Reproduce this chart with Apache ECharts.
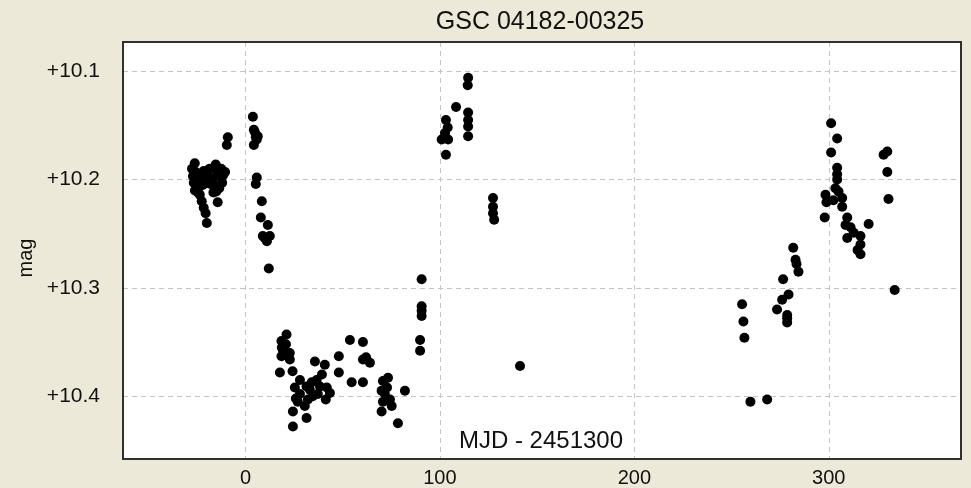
<!DOCTYPE html>
<html>
<head>
<meta charset="utf-8">
<script src="https://cdn.jsdelivr.net/npm/echarts@6/dist/echarts.min.js"></script>
<style>
html,body{margin:0;padding:0;background:#ECE9D8;}
#chart{width:971px;height:488px;}
</style>
</head>
<body>
<div id="chart"></div>
<script>
// Photometry of GSC 04182-00325: [MJD - 2451300, magnitude]
const titleText = "GSC 04182-00325";
const xAxisTitle = "MJD - 2451300";
const yAxisTitle = "mag";
const xTicks = [0, 100, 200, 300];
const yTicks = [10.1, 10.2, 10.3, 10.4];

const seasonA = [
  [-26.1,10.185],[-27.5,10.190],[-27.0,10.197],[-26.6,10.203],[-25.6,10.193],[-25.1,10.200],
  [-24.0,10.207],[-23.0,10.199],[-22.0,10.205],[-21.0,10.199],[-20.0,10.203],[-19.0,10.197],
  [-18.0,10.204],[-17.0,10.199],[-16.0,10.205],[-15.3,10.186],[-14.6,10.192],[-13.5,10.197],
  [-12.5,10.190],[-11.5,10.196],[-10.5,10.193],[-12.0,10.203],[-13.5,10.208],[-15.0,10.211],
  [-16.5,10.212],[-24.5,10.212],[-26.0,10.210],[-23.5,10.214],[-22.5,10.220],[-21.5,10.226],
  [-20.5,10.231],[-19.9,10.240],[-14.3,10.221],[-18.5,10.190],[-21.5,10.192],
  [-9.1,10.161],[-9.6,10.168],
  [3.8,10.142],[4.3,10.154],[5.3,10.161],[4.3,10.168],[5.8,10.163],[4.8,10.156],[6.3,10.160],
  [5.8,10.198],[5.3,10.204],[8.4,10.220],[7.9,10.235],[11.5,10.242],[9.9,10.254],
  [11.0,10.257],[12.5,10.252],[8.9,10.252],[12.0,10.282]
];

const seasonB = [
  [21.1,10.343],[18.5,10.349],[19.2,10.357],[18.5,10.363],[22.8,10.360],[20.8,10.352],
  [17.7,10.378],[24.2,10.377],[35.7,10.368],[40.8,10.371],[48.0,10.363],[48.0,10.378],
  [53.7,10.348],[60.4,10.350],[60.4,10.366],[64.0,10.369],[62.0,10.364],[54.6,10.387],
  [60.4,10.387],[28.0,10.385],[31.4,10.391],[36.6,10.385],[38.3,10.391],[25.4,10.392],
  [43.4,10.397],[41.3,10.403],[34.6,10.400],[26.9,10.405],[30.5,10.409],[24.4,10.414],
  [31.4,10.420],[24.4,10.428],[33.1,10.394],[39.3,10.380],[37.2,10.398],[28.0,10.398],
  [34.1,10.387],[41.8,10.392],[25.9,10.402],[32.1,10.403],[22.8,10.366],[18.7,10.355],
  [70.7,10.386],[72.8,10.392],[70.0,10.395],[74.3,10.403],[75.2,10.409],[70.0,10.414],
  [78.4,10.425],[82.0,10.395],[71.7,10.398],[70.7,10.405],[73.3,10.383],
  [89.8,10.348],[89.8,10.358],[90.6,10.292],[90.6,10.317],[90.6,10.321],[90.6,10.326]
];

const seasonC = [
  [114.5,10.106],[114.3,10.113],[108.3,10.133],[103.1,10.145],[104.0,10.152],[100.9,10.163],
  [104.2,10.163],[103.1,10.177],[102.6,10.157],[114.5,10.138],[114.5,10.145],[114.5,10.151],
  [114.5,10.160],[127.3,10.217],[127.3,10.225],[127.9,10.237],[127.3,10.231],[141.2,10.372]
];

const seasonD = [
  [255.4,10.315],[256.1,10.331],[256.6,10.346],[259.7,10.405],[268.3,10.403],[273.4,10.320],
  [276.0,10.311],[279.3,10.306],[278.6,10.325],[278.6,10.332],[278.6,10.328],[276.5,10.292],
  [281.7,10.263],[282.9,10.274],[284.4,10.285],[283.4,10.278]
];

const seasonE = [
  [301.2,10.148],[304.3,10.162],[301.2,10.175],[304.3,10.189],[304.3,10.195],[304.3,10.200],
  [303.4,10.208],[298.3,10.214],[298.8,10.221],[302.4,10.219],[306.9,10.217],[306.9,10.225],
  [305.0,10.211],[297.9,10.235],[309.5,10.235],[311.2,10.244],[309.5,10.254],[312.8,10.249],
  [316.3,10.252],[316.3,10.260],[316.3,10.269],[314.8,10.265],[308.6,10.242],[320.5,10.241],
  [328.2,10.177],[330.1,10.174],[330.1,10.193],[330.7,10.218],[333.9,10.302]
];

const points = [].concat(seasonA, seasonB, seasonC, seasonD, seasonE);

const near = (v, list) => list.some(t => Math.abs(v - t) < 1e-6);

const G = {left: 123, right: 10, top: 42, bottom: 29};
const W = 971, H = 488;

const chart = echarts.init(document.getElementById('chart'));
chart.setOption({
  backgroundColor: '#ECE9D8',
  animation: false,
  grid: {
    left: G.left, right: G.right, top: G.top, bottom: G.bottom,
    show: true, backgroundColor: '#ffffff', borderWidth: 0
  },
  xAxis: {
    type: 'value', min: -63, max: 368, splitNumber: 4,
    axisLine: {show: false}, axisTick: {show: false},
    axisLabel: {
      margin: 10, color: '#111', fontFamily: 'Liberation Sans, Arial, sans-serif', fontSize: 20,
      formatter: v => near(v, xTicks) ? String(Math.round(v)) : ''
    },
    splitLine: {show: true, lineStyle: {color: '#c4c4c4', width: 1, type: [5, 4]}}
  },
  yAxis: {
    type: 'value', inverse: true, min: 10.073, max: 10.457, splitNumber: 4,
    axisLine: {show: false}, axisTick: {show: false},
    axisLabel: {
      margin: 23, color: '#111', fontFamily: 'Liberation Sans, Arial, sans-serif', fontSize: 21,
      formatter: v => near(v, yTicks) ? '+' + v.toFixed(1) : ''
    },
    splitLine: {show: true, lineStyle: {color: '#c4c4c4', width: 1, type: [5, 4]}}
  },
  graphic: [
    {type: 'rect', z: 100, silent: true,
     shape: {x: G.left, y: G.top, width: W - G.left - G.right, height: H - G.top - G.bottom},
     style: {fill: null, stroke: '#303030', lineWidth: 2}},
    {type: 'text', x: 540, y: 22, z: 10,
     style: {text: titleText, fill: '#111', font: '25px "Liberation Sans", Arial, sans-serif',
             textAlign: 'center', textVerticalAlign: 'middle'}},
    {type: 'text', x: 541, y: 441, z: 10,
     style: {text: xAxisTitle, fill: '#111', font: '24px "Liberation Sans", Arial, sans-serif',
             textAlign: 'center', textVerticalAlign: 'middle'}},
    {type: 'text', x: 26, y: 258, rotation: Math.PI / 2, z: 10,
     style: {text: yAxisTitle, fill: '#111', font: '20px "Liberation Sans", Arial, sans-serif',
             textAlign: 'center', textVerticalAlign: 'middle'}}
  ],
  series: [{
    type: 'scatter',
    data: points,
    symbol: 'circle',
    symbolSize: 10,
    itemStyle: {color: '#000000', opacity: 1}
  }]
});
</script>
</body>
</html>
